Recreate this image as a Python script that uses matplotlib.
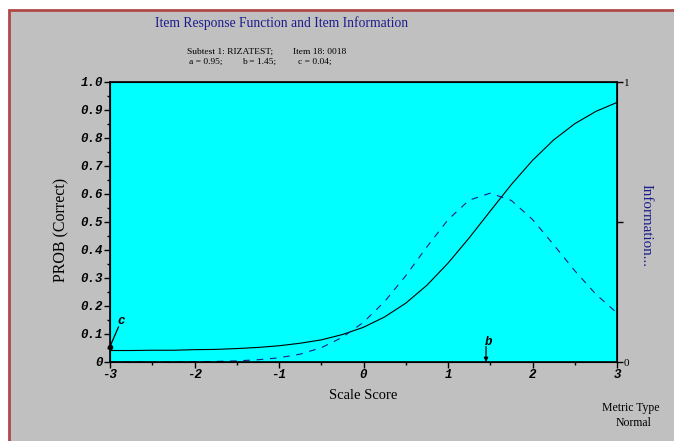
import numpy as np
import matplotlib
matplotlib.use("Agg")
import matplotlib.pyplot as plt
from matplotlib.patches import Rectangle

# values (scale score, P(correct), information)
theta = [-3.0, -2.75, -2.5, -2.25, -2.0, -1.75, -1.5, -1.25, -1.0, -0.75,
         -0.5, -0.25, 0.0, 0.25, 0.5, 0.75, 1.0, 1.25, 1.5, 1.75,
         2.0, 2.25, 2.5, 2.75, 3.0]
prob = [0.041, 0.041, 0.042, 0.042, 0.044, 0.045, 0.048, 0.052, 0.058, 0.067,
        0.079, 0.098, 0.124, 0.161, 0.210, 0.274, 0.353, 0.443, 0.539, 0.634,
        0.720, 0.793, 0.851, 0.895, 0.927]
info = [0.000, 0.000, 0.000, 0.000, 0.001, 0.002, 0.004, 0.008, 0.015, 0.028,
        0.051, 0.088, 0.142, 0.216, 0.308, 0.411, 0.508, 0.578, 0.603, 0.577,
        0.509, 0.419, 0.326, 0.242, 0.175]

xticks = [-3, -2, -1, 0, 1, 2, 3]
yticks = [0, 0.1, 0.2, 0.3, 0.4, 0.5, 0.6, 0.7, 0.8, 0.9, 1.0]
ylabels = ["0", "0.1", "0.2", "0.3", "0.4", "0.5", "0.6", "0.7", "0.8", "0.9", "1.0"]

W, H = 674, 441
fig = plt.figure(figsize=(W / 100, H / 100), dpi=100)
fig.patch.set_facecolor("white")

# grey panel with red edge
fig.patches.append(Rectangle((9 / W, -0.1), 1.2, (H - 10) / H + 0.1,
                             transform=fig.transFigure, facecolor="#c0c0c0",
                             edgecolor="#b04848", linewidth=2, zorder=-10))

serif = "Liberation Serif"
mono = dict(family="Liberation Mono", weight="bold", style="italic", size=9)
navy = "#1c1c8c"

ax = fig.add_axes([110 / W, (H - 362) / H, 507 / W, 280 / H])
ax.set_facecolor("#00ffff")
ax.plot(theta, prob, color="black", lw=0.8)
ax.plot(theta, info, color=navy, lw=0.8, dashes=(6, 6))
ax.set_xlim(-3, 3)
ax.set_ylim(0, 1)

ax.set_xticks(xticks)
ax.set_xticklabels([str(v) for v in xticks], fontdict=mono)
ax.set_xticks(np.arange(-3, 3.01, 0.5), minor=True)
ax.set_yticks(yticks)
ax.set_yticklabels(ylabels, fontdict=mono)
ax.set_yticks(np.arange(0, 1.01, 0.05), minor=True)
ax.tick_params(which="major", direction="out", length=4, width=1, pad=1)
ax.tick_params(which="minor", direction="out", length=2.5, width=1)
for s in ax.spines.values():
    s.set_linewidth(1.2)

ax2 = ax.twinx()
ax2.set_ylim(0, 1)
ax2.set_yticks([0, 0.5, 1])
ax2.set_yticklabels(["0", "", "1"], family=serif, size=8)
ax2.tick_params(direction="out", length=4, width=1, pad=1)

ax.set_xlabel("Scale Score", family=serif, size=10.5, labelpad=6)
fig.text(61 / W, 1 - 229.5 / H, "PROB (Correct)", family=serif, size=11.5,
         rotation=90, ha="center", va="center")
fig.text(646.5 / W, 1 - 225.5 / H, "Information...", family=serif, size=10.8,
         color=navy, rotation=-90, ha="center", va="center")

# c and b markers
ax.plot([-3, -2.9], [0.055, 0.125], color="black", lw=0.9)
ax.plot([-3], [0.055], "o", color="black", ms=3, clip_on=False)
ax.text(-2.91, 0.125, "c", ha="left", va="bottom", **mono)
ax.annotate("", xy=(1.45, 0.0), xytext=(1.45, 0.055),
            arrowprops=dict(arrowstyle="-|>", color="black", lw=0.9,
                            mutation_scale=6, shrinkA=0, shrinkB=0))
ax.text(1.44, 0.05, "b", ha="left", va="bottom", **mono)

fig.text(282 / W, 1 - 23 / H, "Item Response Function and Item Information",
         family=serif, size=9.8, color=navy, ha="center", va="center")
fig.text(187 / W, 1 - 52 / H, "Subtest 1: RIZATEST;", family=serif, size=6.8,
         ha="left", va="center")
fig.text(293 / W, 1 - 52 / H, "Item 18: 0018", family=serif, size=6.8,
         ha="left", va="center")
fig.text(189 / W, 1 - 62 / H, "a = 0.95;", family=serif, size=6.8,
         ha="left", va="center")
fig.text(242 / W, 1 - 62 / H, "b = 1.45;", family=serif, size=6.8,
         ha="left", va="center")
fig.text(298 / W, 1 - 62 / H, "c = 0.04;", family=serif, size=6.8,
         ha="left", va="center")
fig.text(631 / W, 1 - 408 / H, "Metric Type", family=serif, size=8.5,
         ha="center", va="center")
fig.text(634 / W, 1 - 423 / H, "Normal", family=serif, size=8.5,
         ha="center", va="center")

fig.savefig("out.png", dpi=100, facecolor=fig.get_facecolor())
